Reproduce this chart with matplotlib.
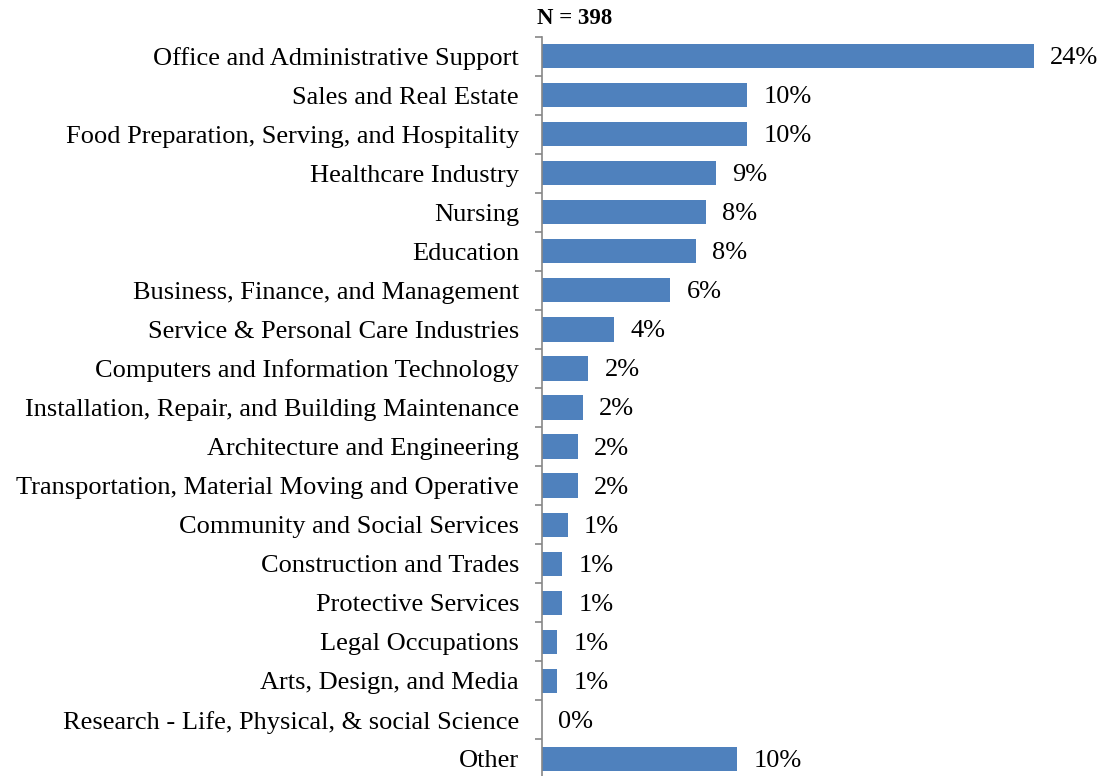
import matplotlib
matplotlib.use("Agg")
from matplotlib import pyplot as plt
import numpy as np

categories = [
    "Office and Administrative Support",
    "Sales and Real Estate",
    "Food Preparation, Serving, and Hospitality",
    "Healthcare Industry",
    "Nursing",
    "Education",
    "Business, Finance, and Management",
    "Service & Personal Care Industries",
    "Computers and Information Technology",
    "Installation, Repair, and Building Maintenance",
    "Architecture and Engineering",
    "Transportation, Material Moving and Operative",
    "Community and Social Services",
    "Construction and Trades",
    "Protective Services",
    "Legal Occupations",
    "Arts, Design, and Media",
    "Research - Life, Physical, & social Science",
    "Other",
]
percent = [24.1, 10.05, 10.05, 8.54, 8.04, 7.54, 6.28, 3.52, 2.26, 2.01,
           1.76, 1.76, 1.26, 1.0, 1.0, 0.75, 0.75, 0.0, 9.55]
n_total = 398

plt.rcParams['font.family'] = ['Liberation Serif', 'DejaVu Serif']

fig = plt.figure(figsize=(11, 7.76), dpi=100)
ax = fig.add_axes([542 / 1100, -2.5 / 776, 551 / 1100, 742 / 776])

y = np.arange(len(categories))
ax.barh(y, percent, height=0.62, color="#4F81BD")
for yi, v in zip(y, percent):
    ax.text(v + 0.8, yi + 0.05, f"{round(v):.0f}%", va="center", ha="left", fontsize=19)

ax.set_xlim(0, 27)
ax.set_ylim(len(categories) - 0.5, -0.5)
ax.set_yticks(y)
ax.set_yticklabels(categories, fontsize=19)
ax.tick_params(axis="y", which="major", length=0, pad=16.5)
ax.set_yticks(np.arange(-0.5, len(categories), 1), minor=True)
ax.tick_params(axis="y", which="minor", length=5, color="#868686", width=1.2)
ax.set_xticks([])
for s in ["top", "right", "bottom"]:
    ax.spines[s].set_visible(False)
ax.spines["left"].set_color("#868686")
ax.spines["left"].set_linewidth(1.2)

fig.text(537 / 1100, 1 - 18 / 776, f"N = {n_total}", fontsize=16.5, fontweight="bold",
         ha="left", va="center")

fig.savefig("out.png", dpi=100)
